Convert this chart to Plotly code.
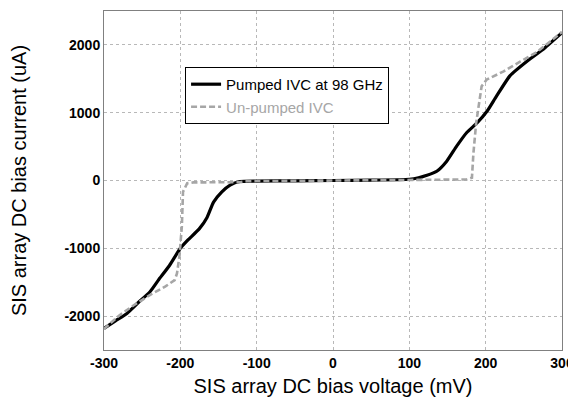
import plotly.graph_objects as go

pumped_v = [-300, -285, -270, -255, -240, -229, -214, -200, -190, -175, -165, -156.5, -145.6, -134.8,
            -121.8, -100, -50, 0, 50, 100, 112, 122, 136, 149, 162, 175, 189, 202, 214, 232, 255, 277, 300]
pumped_i = [-2182, -2070, -1960, -1800, -1645, -1473, -1250, -1000, -877, -710, -545, -318, -167, -67,
            -15, -8, -5, 0, 5, 18, 40, 74, 137, 285, 507, 705, 852, 1024, 1240, 1546, 1766, 1951, 2180]

unpumped_v = [-300, -280, -261, -240, -220, -207.4, -204.4, -201, -198, -196.5, -191, -183, -150, -122,
              -113, -100, -50, 0, 50, 100, 150, 175, 182, 184, 187.6, 190, 194.7, 201.3, 223.5, 245.7, 268, 300]
unpumped_i = [-2190, -1990, -1840, -1690, -1565, -1470, -1372, -1100, -673, -167, -41, -28, -26, -25,
              -12, -8, -5, 0, 4, 8, 12, 15, 40, 409, 852, 1050, 1390, 1488, 1610, 1756, 1902, 2190]

x_ticks = [-300, -200, -100, 0, 100, 200, 300]
y_ticks = [-2000, -1000, 0, 1000, 2000]

gray = "#a6a6a6"
font = "Liberation Sans, Arial, sans-serif"

fig = go.Figure()
fig.add_trace(go.Scatter(x=pumped_v, y=pumped_i, mode="lines", name="Pumped IVC at 98 GHz",
                         line=dict(color="black", width=3.2, shape="spline", smoothing=0.5)))
fig.add_trace(go.Scatter(x=unpumped_v, y=unpumped_i, mode="lines",
                         name=f'<span style="color:{gray}">Un-pumped IVC</span>',
                         line=dict(color=gray, width=2.6, dash="6px,3px")))

axis_common = dict(showline=True, linecolor="#808080", linewidth=1, mirror=True, automargin=False,
                   showgrid=True, gridcolor="#b8b8b8", gridwidth=1, griddash="dot",
                   zeroline=False, ticks="", tickfont=dict(family=font, size=14, color="black", weight="bold"))

fig.update_xaxes(range=[-300, 300], tickvals=x_ticks, ticktext=[str(v) for v in x_ticks],
                 title=dict(text="SIS array DC bias voltage (mV)", font=dict(family=font, size=20, color="black"),
                            standoff=9), **axis_common)
fig.update_yaxes(range=[-2500, 2500], tickvals=y_ticks, ticktext=[str(v) for v in y_ticks],
                 title=dict(text="SIS array DC bias current (uA)", font=dict(family=font, size=20, color="black"),
                            standoff=42), **axis_common)

# page body has an 8px margin, so the figure is sized to fit the 576x401 window
fig.update_layout(width=568, height=393, margin=dict(l=96, r=14, t=3, b=51, autoexpand=False),
                  plot_bgcolor="white", paper_bgcolor="white",
                  legend=dict(x=0.177, y=0.835, xanchor="left", yanchor="top", bgcolor="white",
                              bordercolor="black", borderwidth=1, tracegroupgap=0,
                              font=dict(family=font, size=15, color="black"), itemwidth=30))

fig.write_html("out.html")
